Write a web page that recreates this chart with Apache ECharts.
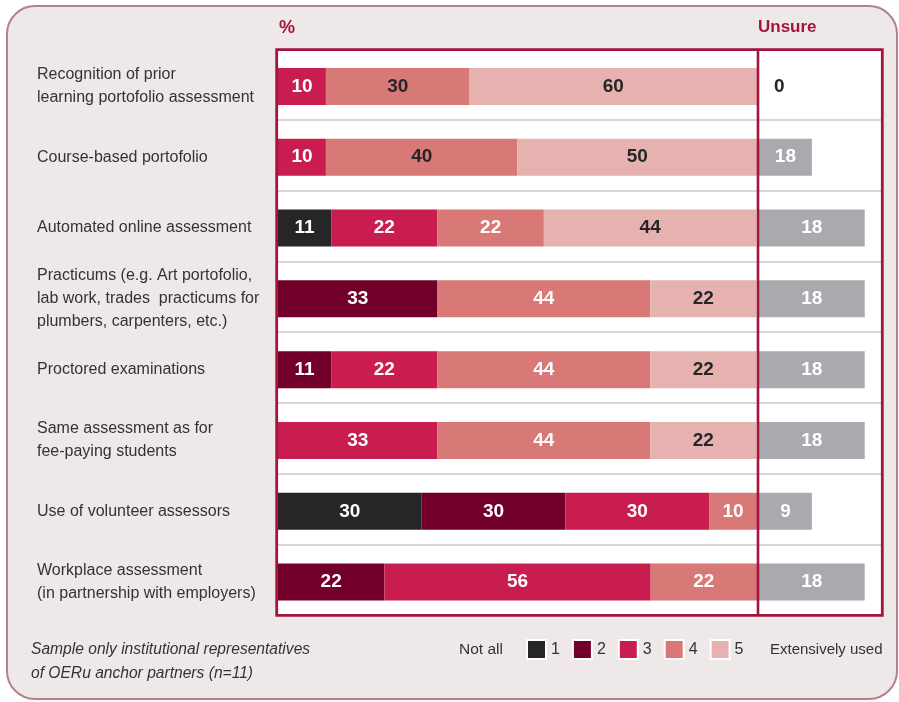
<!DOCTYPE html>
<html><head><meta charset="utf-8">
<script src="https://cdn.jsdelivr.net/npm/echarts@6/dist/echarts.min.js"></script>
<style>html,body{margin:0;padding:0;background:#fff}#c{width:899px;height:702px}</style>
</head><body><div id="c"></div>
<script>
const categories = [
  'Recognition of prior\nlearning portofolio assessment',
  'Course-based portofolio',
  'Automated online assessment',
  'Practicums (e.g. Art portofolio,\nlab work, trades  practicums for\nplumbers, carpenters, etc.)',
  'Proctored examinations',
  'Same assessment as for\nfee-paying students',
  'Use of volunteer assessors',
  'Workplace assessment\n(in partnership with employers)'
];
const level1 = [0, 0, 11.1, 0, 0, 0, 30, 0];
const level2 = [0, 0, 0, 33.3, 11.1, 0, 30, 22.2];
const level3 = [10, 10, 22.2, 0, 22.2, 33.3, 30, 55.6];
const level4 = [30, 40, 22.2, 44.4, 44.4, 44.4, 10, 22.2];
const level5 = [60, 50, 44.4, 22.2, 22.2, 22.2, 0, 0];
const unsureBar = [0, 9.1, 18.2, 18.2, 18.2, 18.2, 9.1, 18.2];
const unsureLabel = ['0', '18', '18', '18', '18', '18', '9', '18'];
const legendNames = ['1', '2', '3', '4', '5'];

const FONT = "'Liberation Sans', Arial, sans-serif";
const colors = ['#262626', '#72002a', '#c81d4e', '#d87877', '#e6b2af'];
const crimson = '#a3153f';
const dark = '#262626';
const levels = [level1, level2, level3, level4, level5];
const darkLabelRowsLevel4 = [0, 1];

const chart = echarts.init(document.getElementById('c'), null, {renderer: 'canvas'});

const mainSeries = levels.map((arr, li) => ({
  name: legendNames[li],
  type: 'bar',
  stack: 'main',
  xAxisIndex: 0, yAxisIndex: 0,
  barWidth: 37,
  itemStyle: {color: colors[li]},
  label: {
    show: true, position: 'inside',
    color: li === 4 ? dark : '#fff',
    fontFamily: FONT, fontWeight: 'bold', fontSize: 19,
    formatter: p => p.value > 0 ? String(Math.round(p.value)) : ''
  },
  data: arr.map((v, ri) => {
    if (li === 3 && darkLabelRowsLevel4.includes(ri)) return {value: v, label: {color: dark}};
    return v;
  })
}));

const unsureSeries = {
  name: 'Unsure', type: 'bar',
  xAxisIndex: 1, yAxisIndex: 1,
  barWidth: 37,
  itemStyle: {color: '#a9aaad'},
  label: {
    show: true, position: 'inside', color: '#fff',
    fontFamily: FONT, fontWeight: 'bold', fontSize: 19,
    formatter: p => unsureLabel[p.dataIndex]
  },
  data: unsureBar.map((v, i) => v === 0 ? {value: v, label: {position: 'right', distance: 15, color: dark}} : v)
};

const yBase = {
  type: 'category', data: categories, inverse: true,
  axisLine: {show: false}, axisTick: {show: false}
};

chart.setOption({
  animation: false,
  textStyle: {fontFamily: FONT},
  grid: [
    {left: 278, width: 479, top: 51, height: 566.5, show: false},
    {left: 759, width: 122, top: 51, height: 566.5, show: false},
    {left: 278, width: 603, top: 49, height: 566, show: false}
  ],
  xAxis: [
    {type: 'value', gridIndex: 0, min: 0, max: 100, show: false},
    {type: 'value', gridIndex: 1, min: 0, max: 21, show: false},
    {type: 'value', gridIndex: 2, min: 0, max: 1, show: false}
  ],
  yAxis: [
    Object.assign({gridIndex: 0}, yBase, {
      splitLine: {show: false},
      axisLabel: {show: true, align: 'left', margin: 241, fontSize: 16, lineHeight: 23, color: '#333', fontFamily: FONT}
    }),
    Object.assign({gridIndex: 1}, yBase, {splitLine: {show: false}, axisLabel: {show: false}}),
    Object.assign({gridIndex: 2}, yBase, {
      axisLabel: {show: false},
      splitLine: {show: true, interval: 0, lineStyle: {color: '#c9c9c9', width: 1.5}}
    })
  ],
  legend: {
    data: legendNames, left: 526, top: 639, padding: 0,
    itemWidth: 19, itemHeight: 19, itemGap: 12, icon: 'rect',
    itemStyle: {borderColor: '#fff', borderWidth: 2},
    textStyle: {fontSize: 16, color: '#333', fontFamily: FONT},
    selectedMode: false
  },
  graphic: [
    {type: 'rect', z: -10, shape: {x: 7, y: 6, width: 890, height: 693, r: 28},
      style: {fill: '#eee8e8', stroke: '#b3808f', lineWidth: 2}},
    {type: 'rect', z: -5, shape: {x: 276.7, y: 49.7, width: 605.6, height: 565.6},
      style: {fill: '#fff'}},
    {type: 'rect', z: 100, shape: {x: 276.7, y: 49.7, width: 605.6, height: 565.6},
      style: {fill: null, stroke: crimson, lineWidth: 2.8}},
    {type: 'line', z: 100, shape: {x1: 758, y1: 49.7, x2: 758, y2: 615.3},
      style: {stroke: crimson, lineWidth: 2.6}},
    {type: 'text', z: 100, left: 279, top: 19, style: {text: '%', fill: crimson, font: 'bold 18px ' + FONT}},
    {type: 'text', z: 100, left: 758, top: 19, style: {text: 'Unsure', fill: crimson, font: 'bold 17px ' + FONT}},
    {type: 'text', z: 100, left: 459, top: 642, style: {text: 'Not all', fill: '#333', font: '15.5px ' + FONT}},
    {type: 'text', z: 100, left: 770, top: 642, style: {text: 'Extensively used', fill: '#333', font: '15px ' + FONT}},
    {type: 'text', z: 100, left: 31, top: 638, style: {text: 'Sample only institutional representatives\nof OERu anchor partners (n=11)', fill: '#333', font: 'italic 15.6px ' + FONT, lineHeight: 24}}
  ],
  series: mainSeries.concat([unsureSeries])
});
</script></body></html>
